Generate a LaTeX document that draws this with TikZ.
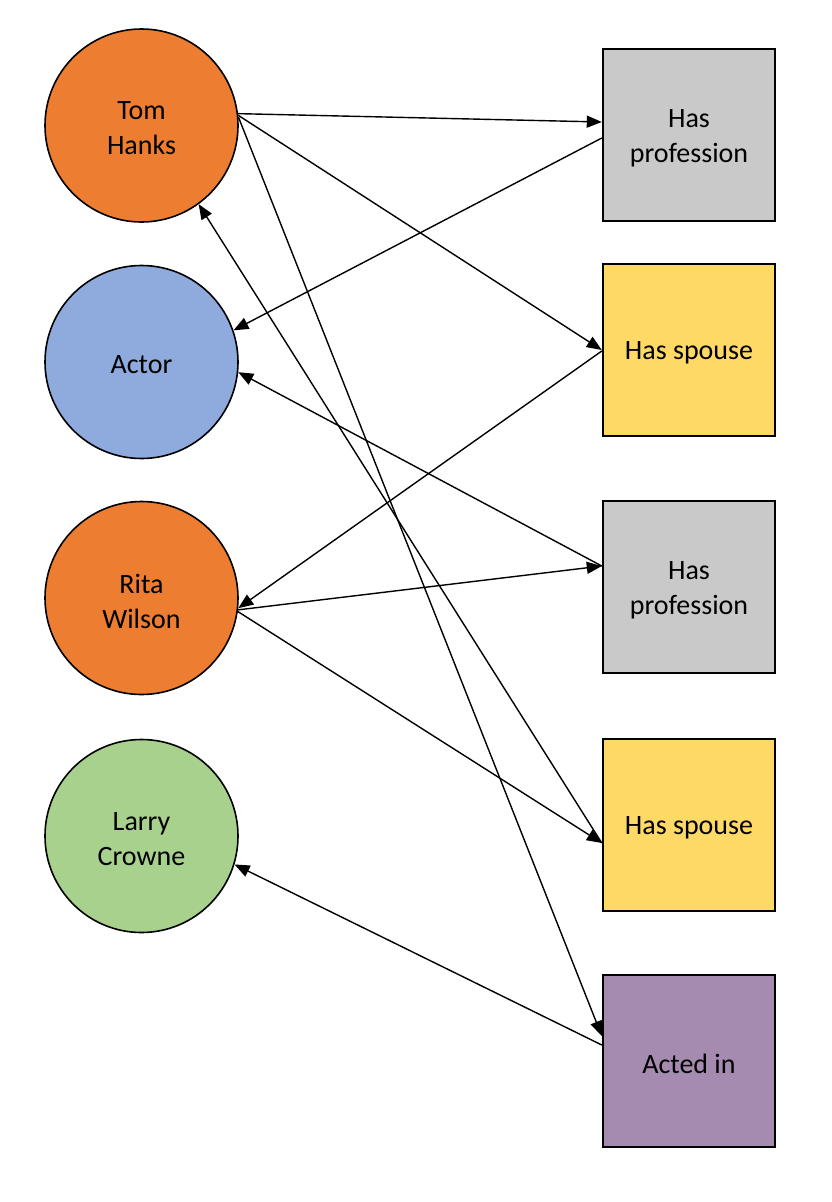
\documentclass[tikz,border=0pt]{standalone}
\usepackage{fontspec}
\setmainfont{Carlito}
\usetikzlibrary{arrows.meta}
\definecolor{corange}{HTML}{ED7D31}
\definecolor{cblue}{HTML}{8FAADC}
\definecolor{cgreen}{HTML}{A9D18E}
\definecolor{cgray}{HTML}{C9C9C9}
\definecolor{cyellow}{HTML}{FFD966}
\definecolor{cpurple}{HTML}{A68BB0}
\tikzset{
  txt/.style={inner sep=0pt, align=center, yshift=-3pt, font=\fontsize{28}{35}\selectfont},
  entity/.style={circle, draw=black, line width=1.6pt, minimum size=193pt, inner sep=0pt},
  relbox/.style={rectangle, draw=black, line width=2.4pt, minimum width=172pt, minimum height=172pt, inner sep=0pt},
  link/.style={line width=1.4pt, -{Triangle[length=15pt,width=12pt]}}
}
\begin{document}
\begin{tikzpicture}[x=1pt,y=-1pt]
\useasboundingbox (0,0) rectangle (832,1202);
\node[entity, fill=corange, label={[txt]center:Tom\\Hanks}] (th) at (141.5,125.5) {};
\node[entity, fill=cblue, label={[txt]center:Actor}] (ac) at (141.5,362) {};
\node[entity, fill=corange, label={[txt]center:Rita\\Wilson}] (rw) at (141.5,598) {};
\node[entity, fill=cgreen, label={[txt]center:Larry\\Crowne}] (lc) at (141.5,836) {};
\node[relbox, fill=cgray, label={[txt]center:Has\\profession}] (hp1) at (689,135) {};
\node[relbox, fill=cyellow, label={[txt]center:Has spouse}] (hs1) at (689,350) {};
\node[relbox, fill=cgray, label={[txt]center:Has\\profession}] (hp2) at (689,587) {};
\node[relbox, fill=cyellow, label={[txt]center:Has spouse}] (hs2) at (689,825) {};
\node[relbox, fill=cpurple, label={[txt]center:Acted in}] (ai) at (689,1061) {};
% Tom Hanks
\draw[link] (th.7) -- ([yshift=13pt]hp1.west);
\draw[link] ([yshift=-3pt]hp1.west) -- (ac.19);
\draw[link] (th.6) -- (hs1.west);
\draw[link] ([yshift=-18pt]hs2.west) -- (th.-54);
\draw[link] (th.5) -- ([yshift=25pt]ai.west);
% Rita Wilson
\draw[link] ([yshift=-1pt]hs1.west) -- (rw.-6);
\draw[link] (rw.-7) -- ([yshift=21pt]hp2.west);
\draw[link] ([yshift=21pt]hp2.west) -- (ac.-6);
\draw[link] (rw.-8) -- ([yshift=-18pt]hs2.west);
% Acted in
\draw[link] ([yshift=16pt]ai.west) -- (lc.-17.6);
\end{tikzpicture}
\end{document}
